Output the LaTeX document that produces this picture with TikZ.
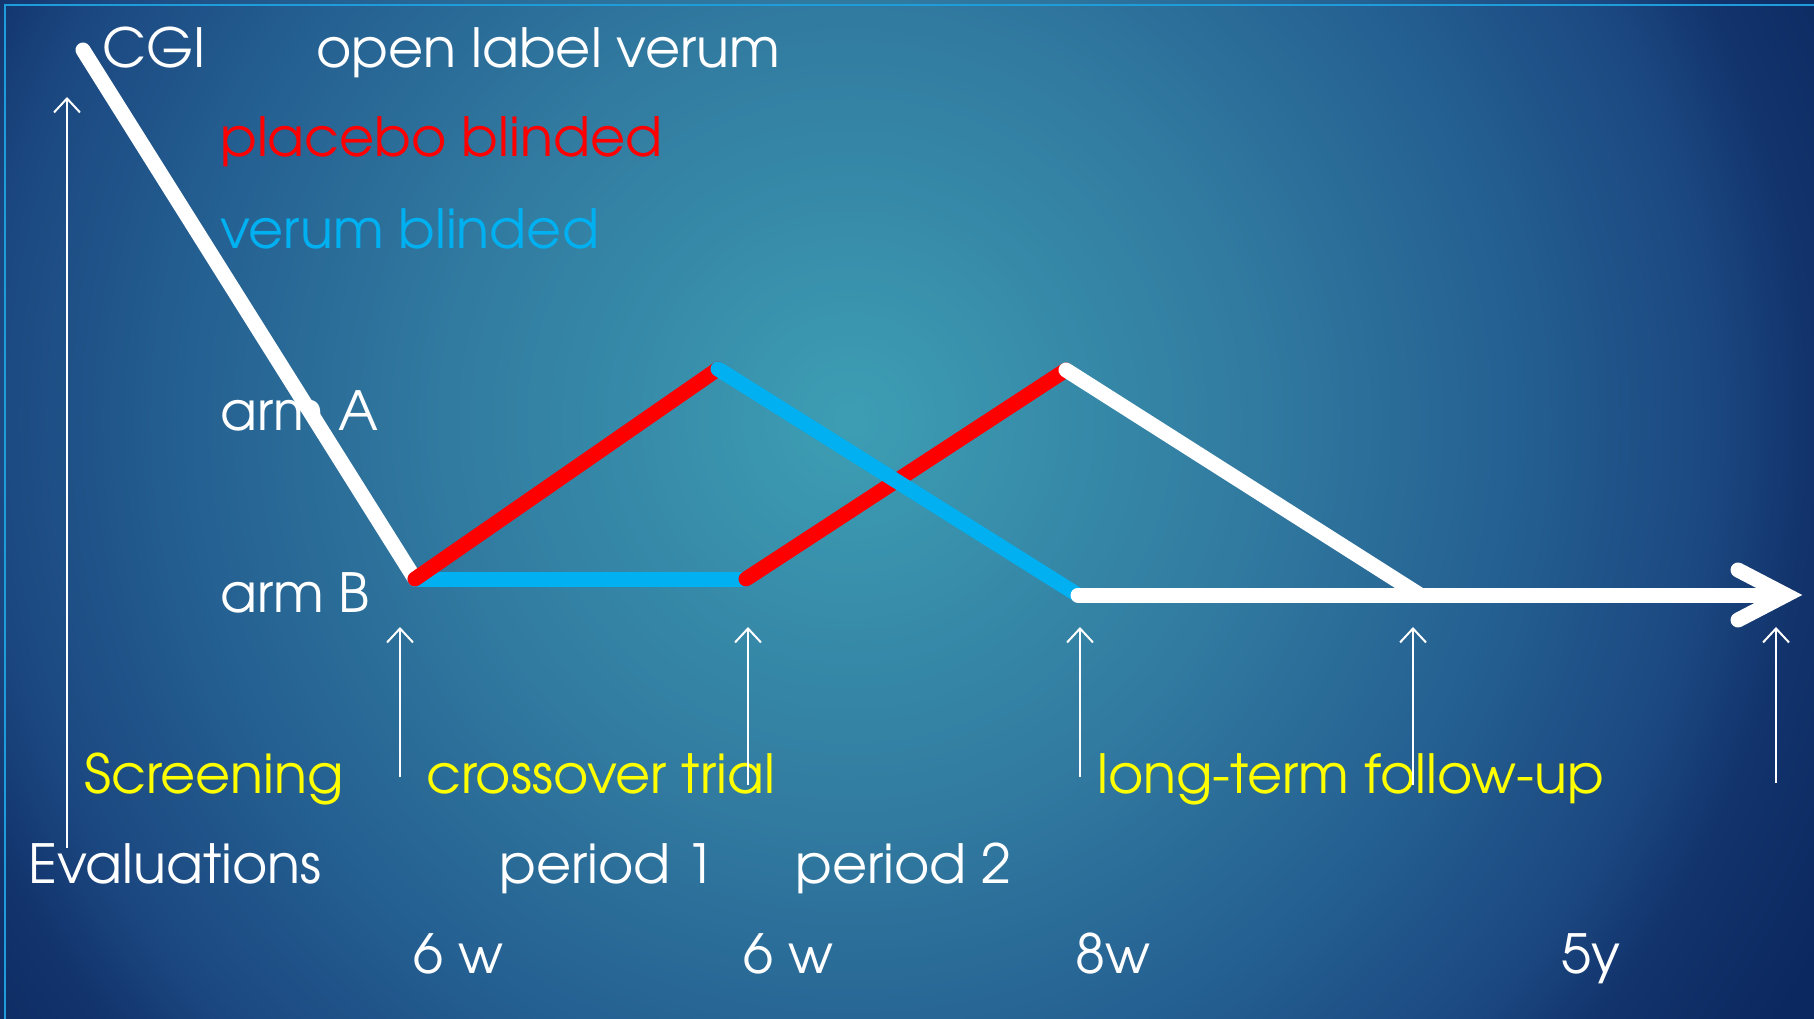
\documentclass[tikz,border=0pt]{standalone}
\usepackage{fontspec}
\setmainfont{TeX Gyre Adventor}
\usetikzlibrary{arrows.meta}
\definecolor{bgA}{HTML}{3D9EB3}
\definecolor{bgB}{HTML}{317AA0}
\definecolor{bgC}{HTML}{245F91}
\definecolor{bgD}{HTML}{1B4780}
\definecolor{bgE}{HTML}{12336C}
\definecolor{bgF}{HTML}{0C2860}
\definecolor{armred}{HTML}{FF0000}
\definecolor{armblue}{HTML}{00B0F0}
\definecolor{lbl}{HTML}{FFFF00}
\definecolor{framec}{HTML}{1E9DDA}
\pgfdeclareradialshading{bgshade}{\pgfpoint{0bp}{0bp}}{color(0bp)=(bgA); color(8.5bp)=(bgB); color(14bp)=(bgC); color(18bp)=(bgD); color(20bp)=(bgE); color(23bp)=(bgF); color(50bp)=(bgF)}
\begin{document}
\begin{tikzpicture}[x=1pt,y=-1pt,
  thickline/.style={line width=15pt, line cap=round},
  evalarrow/.style={white, line width=2pt, -{Straight Barb[length=14pt,width=26pt]}},
  txt/.style={anchor=base west, inner sep=0pt, font=\fontsize{54}{60}\selectfont, text=white}]
\useasboundingbox (0,0) rectangle (1814,1019);
\begin{scope}
  \clip (0,0) rectangle (1814,1019);
  \shade[shading=bgshade] (850,420) circle (1200);
\end{scope}
\draw[framec, line width=2.5pt] (5,1019) -- (5,5) -- (1814,5);

% texts
\node[txt] (tcgi) at (102,68) {CGI};
\node[txt] (topen) at (316,68) {open label verum};
\node[txt,text=armred] (tplac) at (220,157) {placebo blinded};
\node[txt,text=armblue] (tver) at (220,248) {verum blinded};
\node[txt] (tarmA) at (220,430) {arm A};
\node[txt] (tarmB) at (220,612) {arm B};
\node[txt,text=lbl] (tscr) at (84,793) {Screening};
\node[txt,text=lbl] (tcross) at (426,793) {crossover trial};
\node[txt,text=lbl] (tlong) at (1097,793) {long-term follow-up};
\node[txt] (teval) at (28,883) {Evaluations};
\node[txt] (tp1) at (499,883) {period 1};
\node[txt] (tp2) at (795,883) {period 2};
\node[txt] (tw1) at (413,973) {6 w};
\node[txt] (tw2) at (743,973) {6 w};
\node[txt] (tw3) at (1075,973) {8w};
\node[txt] (ty) at (1561,973) {5y};

% key points
\coordinate (cgi) at (83,50);
\coordinate (armB) at (415,579);
\coordinate (peak1) at (718,369);
\coordinate (flatE) at (746,579);
\coordinate (peak2) at (1066,370);
\coordinate (fuS) at (1078,595);
\coordinate (fuJ) at (1420,595);
\coordinate (shaftE) at (1784,595);
\coordinate (headT) at (1786,595);
\coordinate (headU) at (1738,570);
\coordinate (headD) at (1738,620);

% evaluation arrows
\coordinate (e0a) at (67,848); \coordinate (e0b) at (67,97);
\coordinate (e1a) at (400,777); \coordinate (e1b) at (400,627);
\coordinate (e2a) at (748,785); \coordinate (e2b) at (748,627);
\coordinate (e3a) at (1080,777); \coordinate (e3b) at (1080,627);
\coordinate (e4a) at (1413,785); \coordinate (e4b) at (1413,627);
\coordinate (e5a) at (1776,783); \coordinate (e5b) at (1776,627);
\foreach \i in {0,...,5} \draw[evalarrow] (e\i a) -- (e\i b);

% arms
\draw[thickline, white] (cgi) -- (armB);
\draw[thickline, armblue] (armB) -- (flatE);
\draw[thickline, armred] (flatE) -- (peak2);
\draw[thickline, armred] (armB) -- (peak1);
\draw[thickline, armblue] (peak1) -- (fuS);
\draw[thickline, white] (peak2) -- (fuJ);
\draw[thickline, white] (fuS) -- (shaftE);
\draw[thickline, white, line join=miter] (headU) -- (headT) -- (headD);
\end{tikzpicture}
\end{document}
